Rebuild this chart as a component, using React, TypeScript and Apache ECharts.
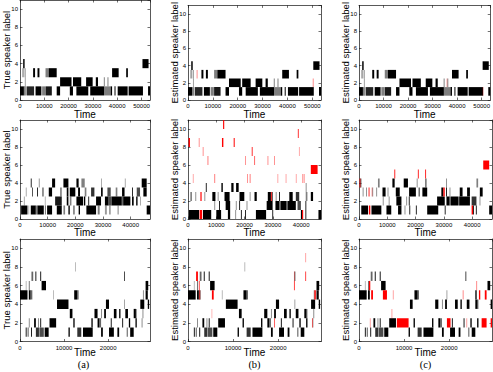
import React, { useEffect, useRef } from "react";
import * as echarts from "echarts";

type Seg = number[]; // [start, end, label, occupancy?]

// ---- x extents (time) for each row, y extent ----
const rowXMax = [53500, 47000, 29500];
const yMax = 11;
const yStep = 2;
const xStep = 10000;
const yTitles = ["True speaker label", "Estimated speaker label", "Estimated speaker label"];
const subLabels = ["(a)", "(b)", "(c)"];

// ---- Row 1 ----
const trueA: Seg[] = [
  [0, 1600, 1], [1600, 2400, 1, 0.5], [2700, 5800, 1, 0.85], [6400, 8800, 1], [9100, 10400, 1, 0.5],
  [10500, 13100, 1, 0.9], [15100, 16500, 1], [20500, 21800, 1], [23200, 28100, 1], [28900, 34600, 1],
  [34600, 37300, 1, 0.5], [37300, 37900, 1], [38900, 39300, 1], [40200, 44300, 1], [44700, 50600, 1], [52700, 53500, 1],
  [2000, 2300, 2, 0.5], [16500, 21200, 2], [21800, 25200, 2], [27200, 29900, 2], [31200, 32100, 2],
  [34500, 34900, 2, 0.5], [36000, 36400, 2, 0.5],
  [1000, 1500, 3, 0.5], [1900, 2300, 3, 0.5], [5400, 6200, 3], [7200, 8000, 3], [10500, 11800, 3, 0.5],
  [11800, 15100, 3], [37900, 40600, 3], [43700, 44400, 3],
  [1300, 1900, 4], [50400, 52900, 4],
];
const estA_b_err: Seg[] = [[3500, 3800, 3, 0.6], [50200, 50500, 2, 0.6]];
const estA_c_err: Seg[] = [[35700, 36000, 2, 0.4], [50400, 50700, 1, 0.4]];

// ---- Row 2 ----
const trueB: Seg[] = [
  [400, 2700, 1], [3100, 3300, 1, 0.5], [3900, 5700, 1], [5700, 6300, 1, 0.5], [6300, 8600, 1], [9000, 9400, 1, 0.5],
  [9800, 11600, 1], [13300, 15100, 1], [15700, 16300, 1, 0.5], [17500, 18000, 1], [19200, 19800, 1, 0.5],
  [21200, 21700, 1], [24000, 27500, 1], [28100, 28800, 1, 0.5], [30700, 31400, 1, 0.4], [32200, 32800, 1, 0.4],
  [35200, 35800, 1, 0.3], [45800, 47000, 1],
  [1400, 1700, 2, 0.4], [9000, 9200, 2, 0.5], [12700, 15100, 2, 0.9], [16900, 17500, 2], [18000, 18600, 2, 0.5],
  [20400, 22800, 2], [23100, 23600, 2], [24700, 25000, 2], [27500, 29300, 2], [30700, 32000, 2], [32000, 33100, 2, 0.7],
  [33100, 36800, 2], [36800, 37300, 2, 0.6], [37300, 39900, 2], [40500, 41100, 2], [42000, 42500, 2], [43400, 43700, 2, 0.4],
  [2100, 2400, 3, 0.4], [4400, 4700, 3, 0.8], [6200, 6500, 3], [8000, 8600, 3, 0.5], [10400, 11600, 3],
  [14500, 15100, 3, 0.5], [16900, 17500, 3], [18000, 20000, 3], [21000, 21700, 3], [23400, 24000, 3, 0.5],
  [25700, 26900, 3, 0.8], [29300, 29900, 3], [31600, 32800, 3, 0.7], [34600, 35200, 3, 0.5], [36900, 37800, 3],
  [40500, 40800, 3], [42200, 43400, 3, 0.7], [44600, 45800, 3],
  [3900, 4200, 4], [6800, 7100, 4, 0.5], [11600, 12700, 4], [15700, 17500, 4], [20400, 21200, 4],
  [22200, 23400, 4, 0.5], [29300, 29600, 4, 0.4], [37900, 38200, 4, 0.4], [44000, 45800, 4],
];
const estB_b: Seg[] = [
  [350, 3900, 1], [5300, 8200, 1], [10000, 11700, 1], [14100, 14900, 1], [16700, 17000, 1, 0.5], [18700, 19000, 1],
  [20200, 20500, 1], [24000, 27600, 1], [29800, 30100, 1], [39900, 40300, 1], [41500, 41800, 1], [46100, 47000, 1],
  [9300, 9600, 2, 0.5], [11000, 11300, 2], [13300, 14900, 2], [16900, 17200, 2, 0.5], [18100, 18400, 2],
  [20700, 21000, 2, 0.5], [27800, 29900, 2], [30900, 32200, 2], [32200, 32700, 2, 0.6], [32700, 34800, 2],
  [34800, 35200, 2, 0.6], [35200, 38100, 2], [38700, 39900, 2, 0.7], [41500, 41800, 2],
  [820, 1400, 3, 0.5], [2600, 2900, 3, 0.5], [5800, 6100, 3, 0.5], [8600, 9700, 3], [10500, 10800, 3, 0.5],
  [12900, 14700, 3], [18200, 19900, 3], [21800, 22100, 3, 0.5], [23500, 24300, 3], [28200, 29300, 3],
  [29600, 29900, 3], [31000, 31300, 3, 0.5], [32200, 32500, 3], [35800, 37000, 3], [38100, 39300, 3, 0.8],
  [41600, 42200, 3, 0.5], [43400, 44200, 3],
  [6300, 6600, 4], [11800, 12300, 4], [15300, 16100, 4], [17000, 17900, 4], [41600, 41900, 4, 0.5],
];
const estB_b_err: Seg[] = [
  [4100, 5000, 1], [40300, 40700, 1], [4300, 4900, 3, 0.7], [29300, 29600, 3],
  [1700, 2000, 5, 0.4], [9300, 9600, 5, 0.6], [20900, 21200, 5, 0.5], [21800, 22100, 5, 0.6], [31600, 31900, 5, 0.4],
  [34500, 34800, 5, 0.4], [38100, 38400, 5, 0.4], [40400, 40700, 5, 0.5], [40900, 41200, 5, 0.5],
  [43400, 45800, 6],
  [6900, 7200, 7, 0.6], [20200, 20500, 7, 0.5], [23400, 23700, 7, 0.7], [28100, 28400, 7, 0.5], [30400, 30700, 7, 0.5],
  [5200, 5500, 8, 0.5], [22500, 22900, 8, 0.7], [39200, 39500, 8, 0.4],
  [200, 700, 9], [3800, 4100, 9, 0.5], [12000, 12500, 9], [16100, 16600, 9, 0.7],
  [38800, 39200, 10, 0.7], [12400, 12800, 11],
];
const estB_c: Seg[] = [
  [800, 3200, 1], [4400, 7900, 1], [9700, 11400, 1], [13800, 15000, 1], [16100, 16400, 1, 0.5], [17800, 18100, 1],
  [20100, 20400, 1], [24100, 28000, 1], [30300, 30600, 1], [40300, 40600, 1], [41300, 41600, 1], [46000, 47000, 1],
  [8400, 8700, 2, 0.5], [10500, 10800, 2, 0.5], [13200, 15000, 2], [16700, 17000, 2, 0.5], [17600, 17900, 2],
  [27600, 30300, 2], [30900, 32000, 2], [32000, 32500, 2, 0.6], [32500, 35000, 2], [35000, 35400, 2, 0.6],
  [35400, 39200, 2], [39800, 41500, 2, 0.8], [42600, 42900, 2, 0.5],
  [1300, 1600, 3, 0.5], [2500, 2800, 3, 0.5], [4700, 5000, 3, 0.5], [6100, 6400, 3, 0.5], [8300, 9400, 3],
  [10100, 10400, 3, 0.5], [13000, 14400, 3], [17700, 20100, 3], [21100, 21400, 3], [22400, 24100, 3],
  [29100, 29800, 3], [30800, 31100, 3], [32000, 32300, 3, 0.5], [35600, 36600, 3], [38200, 39200, 3], [42700, 43700, 3],
  [500, 800, 4], [6700, 7300, 4, 0.5], [11800, 12600, 4], [15800, 17300, 4], [20400, 20700, 4, 0.5],
  [23500, 23800, 4], [30800, 31100, 4, 0.5], [41500, 42100, 4, 0.5],
];
const estB_c_err: Seg[] = [
  [3500, 4000, 1], [39800, 40300, 1], [3400, 3700, 3], [4500, 4700, 3, 0.6], [29800, 30300, 3],
  [200, 500, 4], [12500, 12800, 5], [20800, 21100, 5], [23400, 23700, 5], [43900, 46000, 6],
];

// ---- Row 3 ----
const trueC: Seg[] = [
  [1300, 1500, 1], [1700, 2000, 1, 0.5], [2500, 2700, 1], [3600, 4300, 1, 0.8], [4400, 5400, 1, 0.7], [5600, 6500, 1],
  [11000, 11300, 1], [13000, 13900, 1, 0.8], [14300, 16500, 1], [18400, 18800, 1], [20200, 21300, 1],
  [22100, 22500, 1], [24200, 24500, 1, 0.5], [25000, 25800, 1],
  [2000, 2200, 2, 0.5], [3200, 3600, 2], [4100, 4300, 2, 0.5], [4600, 4800, 2], [6700, 8200, 2], [12100, 12400, 2],
  [16200, 16500, 2], [17600, 18000, 2], [18000, 18400, 2, 0.6], [20600, 20800, 2], [23200, 23400, 2],
  [24700, 25000, 2], [26200, 26500, 2], [27600, 27800, 2, 0.5],
  [11300, 11900, 3], [16900, 17600, 3], [18400, 18600, 3, 0.5], [19100, 19500, 3], [21300, 21900, 3],
  [22500, 22800, 3], [23900, 24500, 3], [25800, 26300, 3], [26300, 26500, 3, 0.5], [27800, 28000, 3, 0.5],
  [8400, 11000, 4], [19500, 20200, 4], [23600, 23800, 4, 0.4], [27300, 28200, 4], [29000, 29300, 4],
  [0, 1700, 5], [2000, 2400, 5], [2400, 2800, 5, 0.6], [7500, 7700, 5, 0.3], [12300, 13000, 5], [13000, 13300, 5, 0.6],
  [27900, 28100, 5, 0.5], [28500, 29000, 5],
  [1300, 1500, 6, 0.3], [2000, 2200, 6, 0.6], [4900, 5900, 6], [28500, 29100, 6],
  [2600, 3000, 7, 0.6], [3500, 3700, 7], [4600, 4800, 7], [23600, 23800, 7, 0.8],
  [12500, 12700, 8, 0.3],
];
const estC_b_err: Seg[] = [
  [19100, 19300, 2, 0.7], [27500, 27700, 2, 0.6], [5200, 5400, 3, 0.3], [2500, 2700, 5, 0.8], [5300, 5700, 5],
  [28000, 28400, 5, 0.8], [2400, 2600, 6, 0.8], [23500, 23700, 6, 0.8], [1800, 2200, 7], [23500, 23700, 7, 0.4],
  [26000, 26200, 7, 0.8], [26000, 26200, 9, 0.4],
];
const estC_c: Seg[] = [
  [1300, 1500, 1], [1700, 2000, 1, 0.5], [2500, 2700, 1], [3600, 4300, 1, 0.8], [4400, 5400, 1, 0.7], [5600, 6500, 1],
  [11000, 11300, 1], [13000, 13900, 1, 0.8], [14300, 16500, 1], [18400, 18800, 1], [20200, 21300, 1],
  [22100, 22500, 1], [24200, 24500, 1, 0.5], [25000, 25800, 1],
  [3200, 3600, 2], [4100, 4300, 2, 0.5], [4600, 4800, 2], [6700, 8200, 2], [12100, 12400, 2],
  [16200, 16500, 2], [17600, 18000, 2], [18000, 18400, 2, 0.6], [20600, 20800, 2], [23200, 23400, 2],
  [24700, 25000, 2], [26200, 26500, 2],
  [11300, 11900, 4], [16900, 17600, 4], [18400, 18600, 4, 0.5], [19100, 19500, 4], [21300, 21900, 4],
  [22500, 22800, 4], [23900, 24500, 4], [25800, 26300, 4], [26300, 26500, 4, 0.5], [29200, 29500, 4],
  [0, 1700, 5], [2000, 2400, 5], [12300, 13000, 5], [13000, 13300, 5, 0.6], [19400, 19600, 5, 0.4], [25800, 26100, 5],
  [1300, 1500, 6, 0.3], [2000, 2200, 6, 0.6], [4900, 5900, 6], [28500, 29100, 6],
  [2600, 3000, 7, 0.6], [3500, 3700, 7], [4600, 4800, 7], [23600, 23800, 7, 0.8],
];
const estC_c_err: Seg[] = [
  [2400, 2600, 2, 0.4], [8400, 11000, 2], [19500, 20300, 2], [23800, 24000, 2, 0.4], [27200, 28300, 2], [29200, 29500, 2],
  [7200, 7400, 3, 0.4], [2700, 3100, 5], [5300, 6200, 5], [7500, 7700, 5, 0.4], [23000, 23200, 5, 0.5],
  [26600, 26900, 5], [27900, 28300, 5], [2200, 2500, 6], [26000, 26200, 6, 0.5],
];

// ---- layout ----
const rowTop = [0, 120, 239];
const rowHeight = [100, 99, 102.5];
const rowTimeGap = [9, 8.5, 6];
const colLeft = [17, 188, 359];
const colWidth = 133;

const panels = [
  { row: 0, col: 0, black: trueA, red: [] as Seg[], shift: 0 },
  { row: 0, col: 1, black: trueA, red: estA_b_err, shift: 0 },
  { row: 0, col: 2, black: trueA, red: estA_c_err, shift: 0 },
  { row: 1, col: 0, black: trueB, red: [] as Seg[], shift: 0 },
  { row: 1, col: 1, black: estB_b, red: estB_b_err, shift: -0.5 },
  { row: 1, col: 2, black: estB_c, red: estB_c_err, shift: 0 },
  { row: 2, col: 0, black: trueC, red: [] as Seg[], shift: 0 },
  { row: 2, col: 1, black: trueC, red: estC_b_err, shift: 0 },
  { row: 2, col: 2, black: estC_c, red: estC_c_err, shift: 0 },
];

const FONT = "'Liberation Sans', Arial, Helvetica, sans-serif";
const LINE = "#111";

function makeRender(shift: number, color: string) {
  return (params: any, api: any) => {
    const s = api.value(0);
    const e = api.value(1);
    const k = api.value(2);
    const occ = api.value(3);
    const p1 = api.coord([s, k + 0.5 + shift]);
    const p2 = api.coord([e, k - 0.5 + shift]);
    const cs = params.coordSys;
    const rect = echarts.graphic.clipRectByRect(
      { x: p1[0], y: p1[1], width: p2[0] - p1[0], height: p2[1] - p1[1] },
      { x: cs.x, y: cs.y, width: cs.width, height: cs.height }
    );
    if (!rect) return null;
    return { type: "rect", shape: rect, style: { fill: color, opacity: occ } };
  };
}

function norm(d: Seg[]) {
  return d.map((s) => [s[0], s[1], s[2], s.length > 3 ? s[3] : 1]);
}

function buildOption() {
  const grid: any[] = [];
  const xAxis: any[] = [];
  const yAxis: any[] = [];
  const series: any[] = [];
  const graphic: any[] = [];
  panels.forEach((p, i) => {
    grid.push({ left: colLeft[p.col], top: rowTop[p.row], width: colWidth, height: rowHeight[p.row] });
    const xmax = rowXMax[p.row];
    const common = {
      type: "value", gridIndex: i, min: 0, max: xmax, interval: xStep,
      splitLine: { show: false },
      axisLine: { show: true, onZero: false, lineStyle: { color: LINE, width: 0.7 } },
      axisTick: { show: true, inside: true, length: 2.5, lineStyle: { color: LINE, width: 0.6 } },
    };
    xAxis.push({
      ...common, position: "bottom",
      axisLabel: {
        show: true, fontSize: 6, margin: 3, color: "#000", fontFamily: FONT, showMaxLabel: false,
        formatter: (v: number) => String(v),
      },
      name: "Time", nameLocation: "middle", nameGap: rowTimeGap[p.row], nameMoveOverlap: false,
      nameTextStyle: { fontSize: 10, lineHeight: 10, color: "#000", fontFamily: FONT },
    });
    xAxis.push({ ...common, position: "top", axisLabel: { show: false } });
    const ycommon = {
      type: "value", gridIndex: i, min: 0, max: yMax, interval: yStep,
      splitLine: { show: false },
      axisLine: { show: true, onZero: false, lineStyle: { color: LINE, width: 0.7 } },
      axisTick: { show: true, inside: true, length: 2.5, lineStyle: { color: LINE, width: 0.6 } },
    };
    yAxis.push({
      ...ycommon, position: "left",
      axisLabel: { show: true, fontSize: 6, margin: 2, color: "#000", fontFamily: FONT, showMaxLabel: false },
      name: yTitles[p.col], nameLocation: "middle", nameGap: 9, nameRotate: 90, nameMoveOverlap: false,
      nameTextStyle: { fontSize: 9.5, color: "#000", fontFamily: FONT },
    });
    yAxis.push({ ...ycommon, position: "right", axisLabel: { show: false } });
    series.push({
      type: "custom", xAxisIndex: 2 * i, yAxisIndex: 2 * i,
      renderItem: makeRender(p.shift, "#000"), data: norm(p.black),
      encode: { x: [0, 1], y: 2 }, silent: true,
    });
    if (p.red.length) {
      series.push({
        type: "custom", xAxisIndex: 2 * i, yAxisIndex: 2 * i,
        renderItem: makeRender(p.shift, "#ff0000"), data: norm(p.red),
        encode: { x: [0, 1], y: 2 }, silent: true,
      });
    }
  });
  subLabels.forEach((t, c) => {
    graphic.push({
      type: "text", x: colLeft[c] + colWidth / 2, y: 364.5,
      style: {
        text: t, fontSize: 10.5, lineHeight: 11, fontFamily: "'Liberation Serif', 'Times New Roman', serif",
        fill: "#000", align: "center", verticalAlign: "middle",
      },
    });
  });
  return { animation: false, backgroundColor: "#fff", grid, xAxis, yAxis, series, graphic };
}

export default function App() {
  const ref = useRef<HTMLDivElement>(null);
  useEffect(() => {
    if (!ref.current) return;
    const chart = echarts.init(ref.current, null, { renderer: "svg" });
    chart.setOption(buildOption() as any);
    return () => chart.dispose();
  }, []);
  return (
    <div
      ref={ref}
      style={{ position: "absolute", left: 0, top: 0, width: 493, height: 372, background: "#fff" }}
    />
  );
}
